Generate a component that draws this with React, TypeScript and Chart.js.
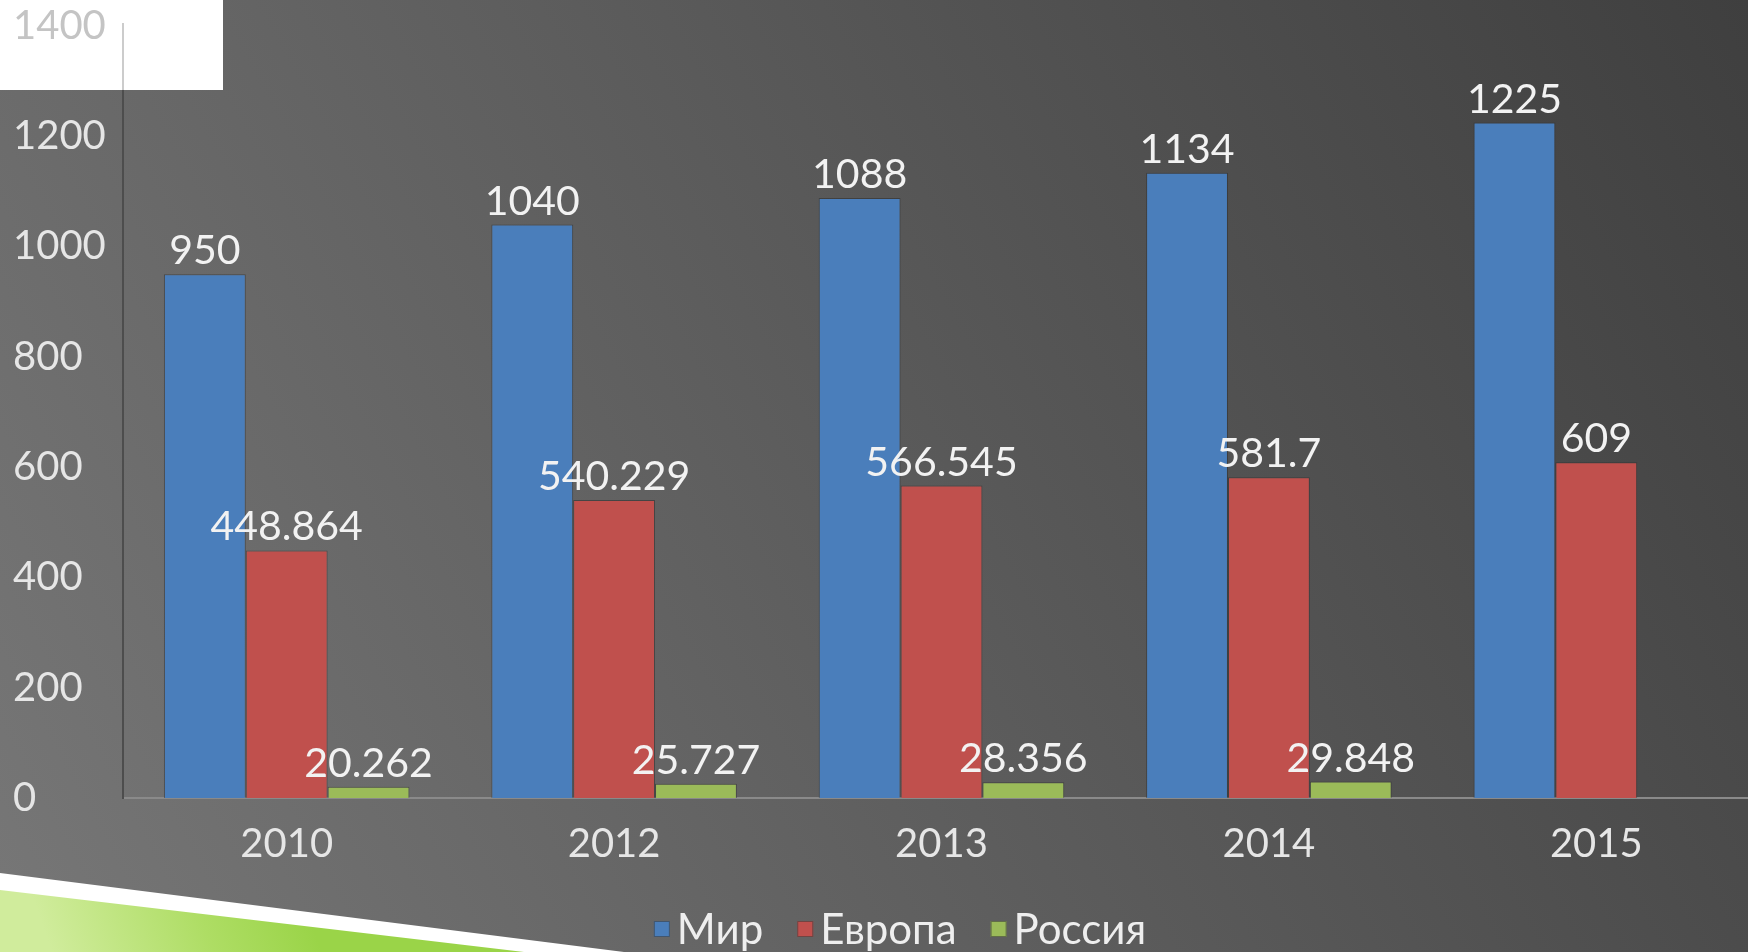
import React, { useEffect, useRef } from "react";
import { Chart, registerables } from "chart.js";

Chart.register(...registerables);

const categories = ["2010", "2012", "2013", "2014", "2015"];
const worldValues = [950, 1040, 1088, 1134, 1225];
const europeValues = [448.864, 540.229, 566.545, 581.7, 609];
const russiaValues: (number | null)[] = [20.262, 25.727, 28.356, 29.848, null];
const seriesNames = ["Мир", "Европа", "Россия"];
const seriesColors = ["#4a7ebb", "#c0504d", "#9bbb59"];
const yTicks = [0, 200, 400, 600, 800, 1000, 1200, 1400];

const FONT = "Lato";

const backgroundPlugin = {
  id: "bgDecor",
  beforeDraw(chart: any) {
    const { ctx, width, height } = chart;
    ctx.save();
    const g = ctx.createLinearGradient(0, height, 1748, 0);
    g.addColorStop(0, "#777777");
    g.addColorStop(1, "#3f3f3f");
    ctx.fillStyle = g;
    ctx.fillRect(0, 0, width, height);
    // white box top-left
    ctx.fillStyle = "#ffffff";
    ctx.fillRect(0, 0, 223, 90);
    // white stripe
    ctx.beginPath();
    ctx.moveTo(0, 873);
    ctx.lineTo(624, 952);
    ctx.lineTo(0, 952);
    ctx.closePath();
    ctx.fill();
    // green stripe
    const gg = ctx.createLinearGradient(60, 975, 300, 890);
    gg.addColorStop(0, "#d0ec9c");
    gg.addColorStop(0.6, "#aedd64");
    gg.addColorStop(1, "#9ad448");
    ctx.fillStyle = gg;
    ctx.beginPath();
    ctx.moveTo(0, 890);
    ctx.lineTo(524, 952);
    ctx.lineTo(0, 952);
    ctx.closePath();
    ctx.fill();
    ctx.restore();
  },
  afterDraw(chart: any) {
    const { ctx } = chart;
    const area = chart.chartArea;
    ctx.save();
    // light axis segment inside white box
    ctx.strokeStyle = "#cccccc";
    ctx.lineWidth = 2;
    ctx.beginPath();
    ctx.moveTo(area.left, area.top - 3);
    ctx.lineTo(area.left, 90);
    ctx.stroke();
    // legend
    ctx.font = `42px ${FONT}`;
    ctx.textBaseline = "alphabetic";
    const sq = 16;
    const gapSq = 7;
    const gapItem = 34;
    let total = 0;
    const widths = seriesNames.map((n) => ctx.measureText(n).width);
    widths.forEach((w, i) => {
      total += sq + gapSq + w + (i < widths.length - 1 ? gapItem : 0);
    });
    let x = 900 - total / 2;
    const baseY = 944;
    seriesNames.forEach((n, i) => {
      ctx.fillStyle = seriesColors[i];
      ctx.fillRect(x, 921, sq, sq);
      ctx.strokeStyle = "rgba(60,60,60,0.6)";
      ctx.lineWidth = 1;
      ctx.strokeRect(x + 0.5, 921.5, sq - 1, sq - 1);
      x += sq + gapSq;
      ctx.fillStyle = "#eeeeee";
      ctx.fillText(n, x, baseY);
      x += widths[i] + gapItem;
    });
    ctx.restore();
  },
};

const labelPlugin = {
  id: "valueLabels",
  afterDatasetsDraw(chart: any) {
    const { ctx } = chart;
    ctx.save();
    ctx.font = `41px ${FONT}`;
    ctx.textAlign = "center";
    ctx.textBaseline = "alphabetic";
    ctx.fillStyle = "#f2f2f2";
    chart.data.datasets.forEach((ds: any, di: number) => {
      const meta = chart.getDatasetMeta(di);
      meta.data.forEach((el: any, i: number) => {
        const v = ds.data[i];
        if (v === null || v === undefined) return;
        ctx.fillText(String(v), el.x, el.y - 10);
      });
    });
    ctx.restore();
  },
};

export default function App() {
  const ref = useRef<HTMLCanvasElement | null>(null);
  useEffect(() => {
    if (!ref.current) return;
    const chart = new Chart(ref.current, {
      type: "bar",
      data: {
        labels: categories,
        datasets: [
          { label: seriesNames[0], data: worldValues, backgroundColor: seriesColors[0] },
          { label: seriesNames[1], data: europeValues, backgroundColor: seriesColors[1] },
          { label: seriesNames[2], data: russiaValues, backgroundColor: seriesColors[2] },
        ].map((d) => ({
          ...d,
          borderColor: "rgba(45,45,45,0.55)",
          borderWidth: 1,
          categoryPercentage: 0.75,
          barPercentage: 1.0,
        })),
      },
      options: {
        responsive: false,
        animation: false,
        layout: { padding: { left: 13, top: 26, right: 0, bottom: 0 } },
        plugins: {
          legend: { display: false },
          tooltip: { enabled: false },
        },
        scales: {
          x: {
            grid: { display: false, drawTicks: false },
            border: { display: true, color: "#8a8a8a", width: 2 },
            ticks: {
              color: "#e6e6e6",
              font: { family: FONT, size: 40 },
              padding: 22,
              maxRotation: 0,
            },
            afterFit: (s: any) => {
              s.height = 154;
            },
          },
          y: {
            min: 0,
            max: 1400,
            afterBuildTicks: (s: any) => {
              s.ticks = yTicks.map((v) => ({ value: v }));
            },
            grid: { display: false, drawTicks: false },
            border: { display: true, color: "#4d4d4d", width: 2 },
            ticks: {
              crossAlign: "far",
              font: { family: FONT, size: 40 },
              color: (c: any) => (c.tick && c.tick.value === 1400 ? "#c4c4c4" : "#e6e6e6"),
              padding: 8,
              callback: (v: any) => String(v),
            },
            afterFit: (s: any) => {
              s.width = 110;
              s.paddingTop = 0;
              s.paddingBottom = 0;
            },
          },
        },
      },
      plugins: [backgroundPlugin, labelPlugin],
    });
    return () => chart.destroy();
  }, []);
  return (
    <div
      style={{
        position: "fixed",
        left: 0,
        top: 0,
        width: 1748,
        height: 952,
        overflow: "hidden",
      }}
    >
      <canvas ref={ref} width={1760} height={952} style={{ width: 1760, height: 952, display: "block" }} />
    </div>
  );
}
